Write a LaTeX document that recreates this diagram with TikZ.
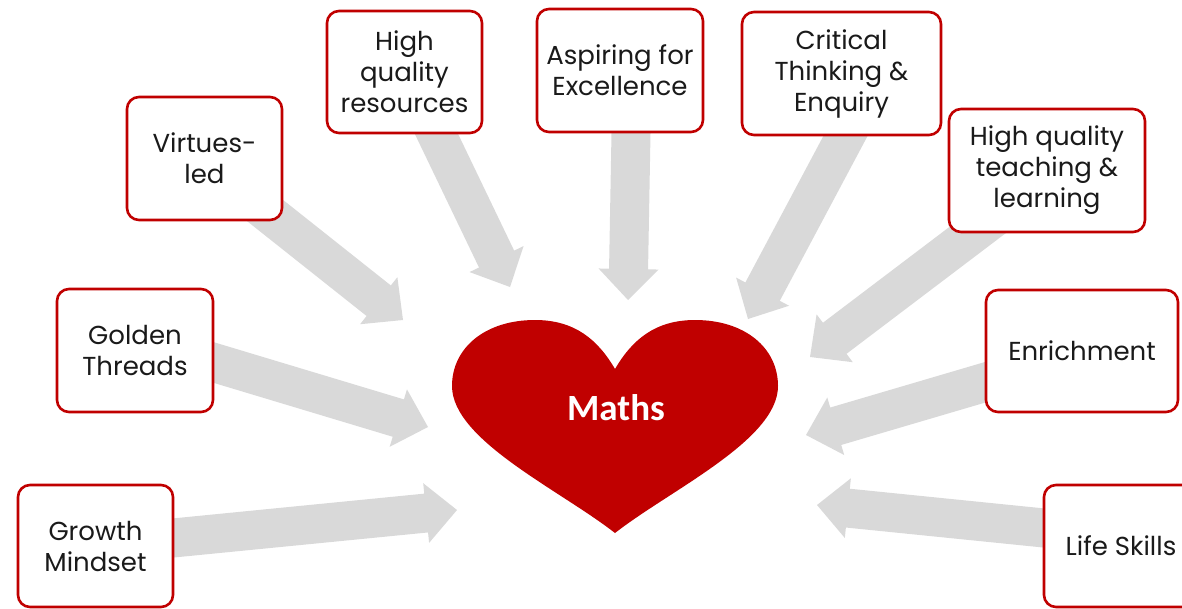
\documentclass[tikz,border=0pt]{standalone}
\usepackage{fontspec}
\usetikzlibrary{calc}
\newfontfamily\carlito{Carlito}
\newfontfamily\poppins{Poppins}
\newcommand\gothic{\poppins\fontsize{26}{31}\selectfont}
\definecolor{boxred}{HTML}{C00000}
\definecolor{arrgray}{HTML}{D9D9D9}
\definecolor{txt}{HTML}{1A1A1A}
\newcommand\blockarrow[2]{%
  \path ($(#2)!31pt!(#1)$) coordinate (hb);
  \fill[arrgray] ($(#1)!19.5pt!90:(#2)$) -- ($(hb)!19.5pt!90:(#2)$) -- ($(hb)!30pt!90:(#2)$) -- (#2)
    -- ($(hb)!30pt!-90:(#2)$) -- ($(hb)!19.5pt!-90:(#2)$) -- ($(#1)!19.5pt!-90:(#2)$) -- cycle;
}
\tikzset{
  box/.style={draw=boxred, line width=2.6pt, fill=white, rounded corners=12pt,
    align=center, inner sep=0pt, font=\gothic, text=txt},
}
\begin{document}
\begin{tikzpicture}[x=1pt,y=-1pt]
\useasboundingbox (0,0) rectangle (1182,608);
\clip (0,0) rectangle (1182,608);
% arrow tips
\coordinate (t1) at (457,510);
\coordinate (t2) at (428,427);
\coordinate (t3) at (403,320);
\coordinate (t4) at (510,287);
\coordinate (t5) at (628,300);
\coordinate (t6) at (748,319);
\coordinate (t7) at (810,357);
\coordinate (t8) at (806,435);
\coordinate (t9) at (817,505);
% arrow starts (inside boxes)
\coordinate (s1) at ($(173,538)!-40pt!(t1)$);
\coordinate (s2) at ($(212,362)!-40pt!(t2)$);
\coordinate (s3) at ($(277,220)!-40pt!(t3)$);
\coordinate (s4) at ($(436,133)!-40pt!(t4)$);
\coordinate (s5) at ($(631,133)!-40pt!(t5)$);
\coordinate (s6) at ($(846,135)!-40pt!(t6)$);
\coordinate (s7) at ($(975,232)!-40pt!(t7)$);
\coordinate (s8) at ($(986,382)!-40pt!(t8)$);
\coordinate (s9) at ($(1044,528)!-40pt!(t9)$);
\foreach \i in {1,...,9}{\blockarrow{s\i}{t\i}}
% boxes
\node[box, minimum width=155pt, minimum height=122pt] (growth) at (95.5,546) {Growth\\Mindset};
\node[box, minimum width=156pt, minimum height=123pt] (golden) at (135,350.5) {Golden\\Threads};
\node[box, minimum width=155pt, minimum height=123pt] (virtues) at (204.5,158.5) {Virtues-\\led};
\node[box, minimum width=155pt, minimum height=122pt] (resources) at (404.5,72) {High\\quality\\resources};
\node[box, minimum width=166pt, minimum height=123pt] (aspiring) at (620,70.5) {Aspiring for\\Excellence};
\node[box, minimum width=199pt, minimum height=123pt] (critical) at (841.5,73.5) {Critical\\Thinking \&\\Enquiry};
\node[box, minimum width=196pt, minimum height=123pt] (teaching) at (1047,170.5) {High quality\\teaching \&\\learning};
\node[box, minimum width=192pt, minimum height=122pt] (enrich) at (1082,351) {Enrichment};
\node[box, minimum width=154pt, minimum height=122pt] (life) at (1121,546) {Life Skills};
% heart
\fill[boxred] (615,369) .. controls (598,340) and (575,320) .. (535,320)
  .. controls (485,320) and (452,348) .. (452,386)
  .. controls (452,440) and (560,490) .. (615,533)
  .. controls (670,490) and (778,440) .. (778,386)
  .. controls (778,348) and (745,320) .. (695,320)
  .. controls (655,320) and (632,340) .. (615,369) -- cycle;
\node[font=\carlito\bfseries\fontsize{37}{42}\selectfont, text=white, inner sep=0pt] (maths) at (616,408) {Maths};
\end{tikzpicture}
\end{document}
